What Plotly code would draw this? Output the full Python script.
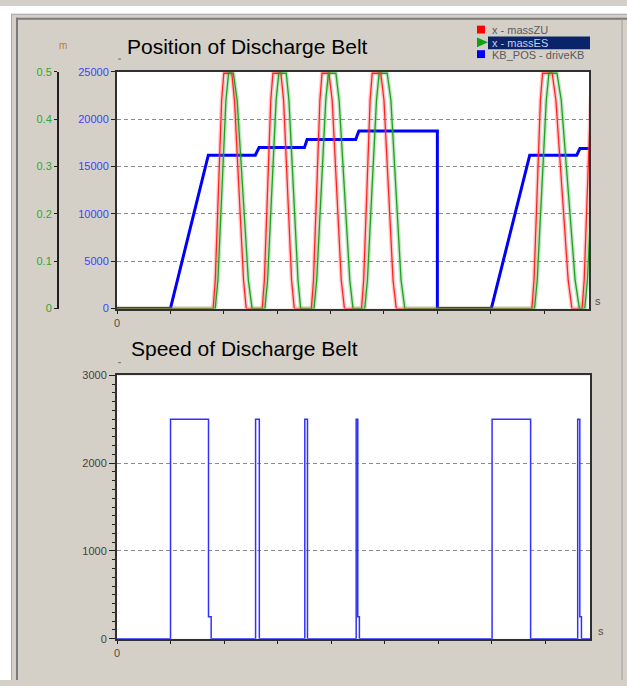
import plotly.graph_objects as go

W, H = 627, 686

# ---------------- data ----------------
# x - massZU (red), metres
t_zu = [0.00, 1.80, 1.84, 1.90, 1.96, 2.00, 2.15, 2.20, 2.28, 2.37, 2.42,
        2.72, 2.76, 2.82, 2.88, 2.92, 3.07, 3.12, 3.19, 3.27, 3.32,
        3.64, 3.68, 3.74, 3.80, 3.84, 3.97, 4.03, 4.11, 4.20, 4.26,
        4.58, 4.62, 4.68, 4.74, 4.78, 4.94, 5.00, 5.08, 5.17, 5.23,
        7.77, 7.81, 7.87, 7.93, 7.97, 8.15, 8.22, 8.33, 8.45, 8.52,
        8.71, 8.75, 8.81, 8.87, 8.91]
v_zu = [0.0, 0.0, 0.06, 0.25, 0.44, 0.497, 0.497, 0.44, 0.25, 0.06, 0.0,
        0.0, 0.06, 0.25, 0.44, 0.497, 0.497, 0.44, 0.25, 0.06, 0.0,
        0.0, 0.06, 0.25, 0.44, 0.497, 0.497, 0.44, 0.25, 0.06, 0.0,
        0.0, 0.06, 0.25, 0.44, 0.497, 0.497, 0.44, 0.25, 0.06, 0.0,
        0.0, 0.06, 0.25, 0.44, 0.497, 0.497, 0.44, 0.25, 0.06, 0.0,
        0.0, 0.06, 0.25, 0.44, 0.497]

# x - massES (green), metres
t_es = [0.00, 1.84, 1.89, 1.97, 2.04, 2.09, 2.18, 2.25, 2.36, 2.46, 2.53,
        2.77, 2.82, 2.90, 2.98, 3.03, 3.17, 3.22, 3.30, 3.39, 3.44,
        3.69, 3.74, 3.83, 3.91, 3.96, 4.10, 4.16, 4.26, 4.36, 4.42,
        4.64, 4.69, 4.78, 4.86, 4.91, 5.06, 5.13, 5.23, 5.32, 5.39,
        7.82, 7.87, 7.96, 8.04, 8.09, 8.24, 8.32, 8.45, 8.58, 8.66,
        8.76, 8.81, 8.89, 8.97, 9.02]
v_es = [0.0, 0.0, 0.06, 0.25, 0.44, 0.497, 0.497, 0.44, 0.25, 0.06, 0.0,
        0.0, 0.06, 0.25, 0.44, 0.497, 0.497, 0.44, 0.25, 0.06, 0.0,
        0.0, 0.06, 0.25, 0.44, 0.497, 0.497, 0.44, 0.25, 0.06, 0.0,
        0.0, 0.06, 0.25, 0.44, 0.497, 0.497, 0.44, 0.25, 0.06, 0.0,
        0.0, 0.06, 0.25, 0.44, 0.497, 0.497, 0.44, 0.25, 0.06, 0.0,
        0.0, 0.06, 0.25, 0.44, 0.497]

# KB_POS - driveKB (blue)
t_pos = [0.00, 1.00, 1.71, 2.59, 2.66, 3.51, 3.56, 4.47, 4.53, 6.00, 6.00,
         7.01, 7.73, 8.61, 8.67, 8.84]
v_pos = [0, 0, 16200, 16200, 17000, 17000, 17850, 17850, 18750, 18750, 0,
         0, 16200, 16200, 16900, 16900]

# Speed of discharge belt (blue)
t_spd = [0.00, 1.00, 1.00, 1.71, 1.71, 1.76, 1.76, 2.59, 2.59, 2.66, 2.66,
         3.51, 3.51, 3.56, 3.56, 4.47, 4.47, 4.50, 4.50, 4.53, 4.53,
         7.01, 7.01, 7.73, 7.73, 8.61, 8.61, 8.65, 8.65, 8.68, 8.68, 8.84]
v_spd = [0, 0, 2500, 2500, 250, 250, 0, 0, 2500, 2500, 0,
         0, 2500, 2500, 0, 0, 2500, 2500, 250, 250, 0,
         0, 2500, 2500, 0, 0, 2500, 2500, 250, 250, 0, 0]

legend_names = ["x - massZU", "x - massES", "KB_POS - driveKB"]
title_top = "Position of Discharge Belt"
title_bottom = "Speed of Discharge Belt"

X_MAX = 8.84


def fx(x):
    return x / W


def fy(y):
    return 1 - y / H


RED = "#ff2424"
GREEN = "#22a022"
BLUE = "#0000ff"
BG = "#d4d0c8"

fig = go.Figure()
# faint halo under the mass curves (as in the anti-aliased original)
fig.add_trace(go.Scatter(x=t_zu, y=v_zu, mode="lines", line=dict(color="rgba(255,60,60,0.28)", width=4),
                         xaxis="x", yaxis="y3", showlegend=False, hoverinfo="skip"))
fig.add_trace(go.Scatter(x=t_es, y=v_es, mode="lines", line=dict(color="rgba(40,170,40,0.28)", width=4),
                         xaxis="x", yaxis="y3", showlegend=False, hoverinfo="skip"))
fig.add_trace(go.Scatter(x=t_zu, y=v_zu, mode="lines", line=dict(color=RED, width=1.3),
                         xaxis="x", yaxis="y3", showlegend=False))
fig.add_trace(go.Scatter(x=t_es, y=v_es, mode="lines", line=dict(color=GREEN, width=1.3),
                         xaxis="x", yaxis="y3", showlegend=False))
fig.add_trace(go.Scatter(x=t_pos, y=v_pos, mode="lines", line=dict(color=BLUE, width=3),
                         xaxis="x", yaxis="y", showlegend=False))
fig.add_trace(go.Scatter(x=t_spd, y=v_spd, mode="lines", line=dict(color="#3030ff", width=1.5),
                         xaxis="x2", yaxis="y2", showlegend=False))

grid = dict(showgrid=True, gridcolor="#8c8c8c", gridwidth=1, griddash="4px,3px")
tickfont = dict(family="Liberation Sans", size=11)

shapes = []
# window frame
shapes.append(dict(type="rect", xref="paper", yref="paper", x0=0, x1=1, y0=fy(8), y1=1,
                   fillcolor="white", line=dict(width=0), layer="below"))
shapes.append(dict(type="rect", xref="paper", yref="paper", x0=0, x1=fx(11), y0=0, y1=1,
                   fillcolor="white", line=dict(width=0), layer="below"))
shapes.append(dict(type="line", xref="paper", yref="paper", x0=fx(11), x1=1, y0=fy(8.5), y1=fy(8.5),
                   line=dict(color="#a8a8a8", width=1)))
shapes.append(dict(type="line", xref="paper", yref="paper", x0=fx(11.5), x1=fx(11.5), y0=0, y1=fy(8),
                   line=dict(color="#a8a8a8", width=1)))
shapes.append(dict(type="line", xref="paper", yref="paper", x0=fx(16), x1=1, y0=fy(13), y1=fy(13),
                   line=dict(color="#7a7a7a", width=2)))
shapes.append(dict(type="line", xref="paper", yref="paper", x0=fx(17), x1=fx(17), y0=0, y1=fy(12),
                   line=dict(color="#7a7a7a", width=2)))
shapes.append(dict(type="line", xref="paper", yref="paper", x0=fx(622), x1=fx(622), y0=0, y1=fy(13),
                   line=dict(color="#a0a0a0", width=1)))
# small marks above y axes
shapes.append(dict(type="line", xref="paper", yref="paper", x0=fx(118), x1=fx(121), y0=fy(54), y1=fy(54),
                   line=dict(color="#707070", width=1)))
shapes.append(dict(type="line", xref="paper", yref="paper", x0=fx(118), x1=fx(121), y0=fy(363), y1=fy(363),
                   line=dict(color="#707070", width=1)))

# legend markers
shapes.append(dict(type="rect", xref="paper", yref="paper", x0=fx(477), x1=fx(485), y0=fy(28), y1=fy(20),
                   fillcolor="#ff0000", line=dict(width=0)))
shapes.append(dict(type="path", xref="paper", yref="paper",
                   path=f"M {fx(477)},{fy(32)} L {fx(488)},{fy(37)} L {fx(477)},{fy(42)} Z",
                   fillcolor="#10a010", line=dict(width=0)))
shapes.append(dict(type="rect", xref="paper", yref="paper", x0=fx(488), x1=fx(590), y0=fy(44), y1=fy(31),
                   fillcolor="#0a246a", line=dict(width=0)))
shapes.append(dict(type="rect", xref="paper", yref="paper", x0=fx(477), x1=fx(485), y0=fy(53), y1=fy(45),
                   fillcolor="#0000ff", line=dict(width=0)))

ann = []


def text(x, y, s, size=11, color="#404040", xanchor="center", family="Liberation Sans"):
    ann.append(dict(x=fx(x), y=fy(y), xref="paper", yref="paper", text=s, showarrow=False,
                    xanchor=xanchor, yanchor="middle", font=dict(family=family, size=size, color=color)))


text(125, 41, title_top, size=21, color="black", xanchor="left")
text(129, 349, title_bottom, size=21, color="black", xanchor="left")
text(63, 40, "m", size=10, color="#c07838")
text(117, 323, "0", size=11, color="#5a4a3a")
text(117, 659, "0", size=11, color="#5a4a3a")
text(598, 300, "s", size=11, color="#5a4a3a")
text(601, 636, "s", size=11, color="#5a4a3a")
text(490, 24, legend_names[0], size=11, color="#5a5a5a", xanchor="left")
text(490, 37.5, legend_names[1], size=11, color="#c8d0ea", xanchor="left")
text(490, 50, legend_names[2], size=11, color="#5a5a5a", xanchor="left")

xcommon = dict(range=[0, X_MAX], dtick=1, tick0=0, ticks="outside", ticklen=3, tickcolor="#202020",
               showticklabels=False, showline=True, linecolor="#303030", linewidth=2, mirror=True,
               showgrid=False, zeroline=False, fixedrange=True)

fig.update_layout(
    width=W, height=H,
    margin=dict(l=0, r=0, t=0, b=0),
    paper_bgcolor=BG, plot_bgcolor="white",
    showlegend=False,
    xaxis=dict(domain=[fx(117), fx(589)], anchor="y", **xcommon),
    yaxis=dict(domain=[fy(308), fy(67)], anchor="x", range=[0, 25000], dtick=5000, tickformat="d",
               ticks="outside", ticklen=4, tickcolor="#202020",
               tickfont=dict(color="#4040ff", **tickfont),
               showline=True, linecolor="#303030", linewidth=2, mirror=True,
               zeroline=False, fixedrange=True, **grid),
    yaxis3=dict(overlaying="y", anchor="free", position=fx(58), side="left",
                range=[0, 0.5], dtick=0.1, ticks="outside", ticklen=3, tickcolor="#202020",
                tickfont=dict(color="#30a830", **tickfont),
                showline=True, linecolor="#202020", linewidth=2,
                showgrid=False, zeroline=False, fixedrange=True),
    xaxis2=dict(domain=[fx(117), fx(590)], anchor="y2", **xcommon),
    yaxis2=dict(domain=[fy(644), fy(376)], anchor="x2", range=[0, 3000], dtick=1000, tickformat="d",
                ticks="outside", ticklen=6, tickcolor="#202020",
                minor=dict(dtick=100, ticks="outside", ticklen=3, tickcolor="#202020", showgrid=False),
                tickfont=dict(color="#4a4038", **tickfont),
                showline=True, linecolor="#303030", linewidth=2, mirror=True,
                zeroline=False, fixedrange=True, **grid),
    shapes=shapes,
    annotations=ann,
)

fig.write_html("out.html", config={"displayModeBar": False},
               post_script="document.body.style.margin='0';document.body.style.overflow='hidden';")
